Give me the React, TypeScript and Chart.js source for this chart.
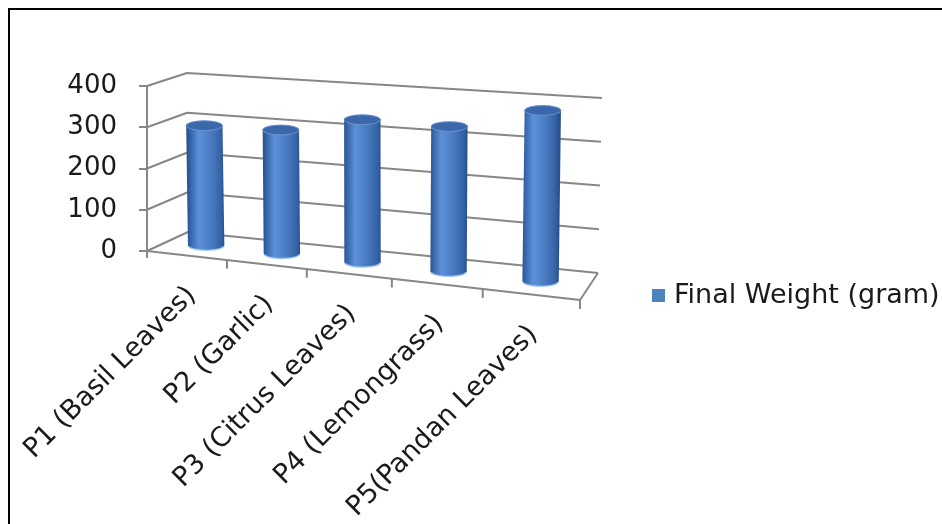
import React, { useEffect, useRef } from "react";
import { Chart, registerables } from "chart.js";

Chart.register(...registerables);

// ---- data ----
const categories = [
  "P1 (Basil Leaves)",
  "P2 (Garlic)",
  "P3 (Citrus Leaves)",
  "P4 (Lemongrass)",
  "P5(Pandan Leaves)",
];
const finalWeight = [293, 297, 336, 335, 387];
const seriesLabel = "Final Weight (gram)";
const yMin = 0;
const yMax = 400;
const yStep = 100;

// ---- style / layout ----
const FONT = '"DejaVu Sans", Verdana, sans-serif';
const TEXT = "#1a1a1a";
const GRID = "#878787";
const SERIES_COLOR = "#4f81bd";
const PERSPECTIVE = 0.85;
// 3D box corners, offsets from chart area (left, bottom)
const FLB = [5, 0];
const FRB = [433, 49];
const BLB = [41, -19];
const BRB = [451, 22];
const FLT = [0, -165];
const FRT = [435, -133];
const BLT = [40, -178];
const BRT = [455, -153];

const lerp = (a: number[], b: number[], t: number) => [
  a[0] + (b[0] - a[0]) * t,
  a[1] + (b[1] - a[1]) * t,
];

function project(ca: any, u: number, vf: number, w: number) {
  const g = (PERSPECTIVE * u) / (1 + (PERSPECTIVE - 1) * u);
  const fb = lerp(FLB, FRB, g);
  const bb = lerp(BLB, BRB, g);
  const ft = lerp(FLT, FRT, g);
  const bt = lerp(BLT, BRT, g);
  const bot = lerp(fb, bb, w);
  const top = lerp(ft, bt, w);
  const p = lerp(bot, top, vf);
  return { x: ca.left + p[0], y: ca.bottom + p[1] };
}

const box3dPlugin = {
  id: "box3d",
  beforeDatasetsDraw(chart: any) {
    const ctx: CanvasRenderingContext2D = chart.ctx;
    const ca = chart.chartArea;
    const xs = chart.scales.x;
    const ys = chart.scales.y;
    const W = ca.right - ca.left;
    const H = ca.bottom - ca.top;
    const vfOf = (px: number) => (ca.bottom - px) / H;
    const uOf = (px: number) => (px - ca.left) / W;
    const n = chart.data.labels.length;
    const halfCat = W / n / 2;

    ctx.save();
    // walls gridlines
    ctx.strokeStyle = GRID;
    ctx.lineWidth = 2;
    ctx.lineJoin = "round";
    ys.ticks.forEach((t: any) => {
      const vf = vfOf(ys.getPixelForValue(t.value));
      const a = project(ca, 0, vf, 0);
      const b = project(ca, 0, vf, 1);
      const c = project(ca, 1, vf, 1);
      ctx.beginPath();
      ctx.moveTo(ca.left, a.y);
      ctx.lineTo(b.x, b.y);
      ctx.lineTo(c.x, c.y);
      ctx.stroke();
    });
    // floor front and right edges
    {
      const a = project(ca, 0, 0, 0);
      const b = project(ca, 1, 0, 0);
      const c = project(ca, 1, 0, 1);
      ctx.beginPath();
      ctx.moveTo(ca.left, a.y);
      ctx.lineTo(b.x, b.y);
      ctx.lineTo(c.x, c.y);
      ctx.stroke();
      ctx.beginPath();
      ctx.moveTo(ca.left, ca.bottom);
      ctx.lineTo(ca.left, ca.bottom + 7);
      ctx.stroke();
    }
    // category tick marks on front edge
    for (let i = 0; i < n; i++) {
      const u = uOf(xs.getPixelForValue(i) + halfCat);
      const p = project(ca, u, 0, 0);
      ctx.beginPath();
      ctx.moveTo(p.x, p.y);
      ctx.lineTo(p.x, p.y + 9);
      ctx.stroke();
    }

    // cylinders
    const meta = chart.getDatasetMeta(0);
    meta.data.forEach((bar: any) => {
      const props = bar.getProps(["x", "y", "width"], true);
      const u = uOf(props.x);
      const vf = vfOf(props.y);
      const rx = props.width / 2;
      const ry = rx * 0.27;
      const c0 = project(ca, u, 0, 0.5);
      const c1 = project(ca, u, vf, 0.5);
      const grad = ctx.createLinearGradient(c0.x - rx, 0, c0.x + rx, 0);
      grad.addColorStop(0, "#2b5593");
      grad.addColorStop(0.12, "#3e6eb3");
      grad.addColorStop(0.3, "#5b90d8");
      grad.addColorStop(0.45, "#5487cf");
      grad.addColorStop(0.7, "#4575ba");
      grad.addColorStop(0.9, "#3463a6");
      grad.addColorStop(1, "#2a5291");
      ctx.beginPath();
      ctx.moveTo(c1.x - rx, c1.y);
      ctx.lineTo(c0.x - rx, c0.y);
      ctx.ellipse(c0.x, c0.y, rx, ry, 0, Math.PI, 0, true);
      ctx.lineTo(c1.x + rx, c1.y);
      ctx.ellipse(c1.x, c1.y, rx, ry, 0, 0, Math.PI, true);
      ctx.closePath();
      ctx.fillStyle = grad;
      ctx.fill();
      ctx.beginPath();
      ctx.ellipse(c0.x, c0.y, rx - 0.5, ry, 0, Math.PI * 0.95, Math.PI * 0.05, true);
      ctx.strokeStyle = "rgba(150,192,240,0.85)";
      ctx.lineWidth = 1.5;
      ctx.stroke();
      ctx.beginPath();
      ctx.ellipse(c1.x, c1.y, rx, ry, 0, 0, Math.PI * 2);
      ctx.fillStyle = "#3a68ab";
      ctx.fill();
      ctx.strokeStyle = "rgba(110,150,210,0.9)";
      ctx.lineWidth = 1;
      ctx.stroke();
    });

    // category labels, rotated 45 degrees
    ctx.fillStyle = TEXT;
    ctx.font = `27px ${FONT}`;
    ctx.textAlign = "right";
    ctx.textBaseline = "middle";
    chart.data.labels.forEach((lab: string, i: number) => {
      const p = project(ca, uOf(xs.getPixelForValue(i)), 0, 0);
      ctx.save();
      ctx.translate(p.x + 3, p.y + 36);
      ctx.rotate(-Math.PI / 4);
      ctx.fillText(lab, 0, 0);
      ctx.restore();
    });

    // legend
    const ds = chart.data.datasets[0];
    ctx.fillStyle = ds.backgroundColor;
    ctx.fillRect(642, 279, 13, 13);
    ctx.fillStyle = TEXT;
    ctx.textAlign = "left";
    ctx.textBaseline = "middle";
    ctx.fillText(ds.label, 664, 286);

    ctx.restore();
    return false;
  },
};

export default function App() {
  const ref = useRef<HTMLCanvasElement | null>(null);
  useEffect(() => {
    document.documentElement.style.overflow = "hidden";
    document.body.style.overflow = "hidden";
    if (!ref.current) return;
    Chart.defaults.font.family = FONT;
    const chart = new Chart(ref.current, {
      type: "bar",
      data: {
        labels: categories,
        datasets: [
          {
            label: seriesLabel,
            data: finalWeight,
            backgroundColor: SERIES_COLOR,
            barPercentage: 0.42,
            categoryPercentage: 1,
          },
        ],
      },
      options: {
        responsive: false,
        animation: false,
        events: [],
        layout: { padding: { left: 20, top: 76, right: 362, bottom: 273 } },
        plugins: {
          legend: { display: false },
          tooltip: { enabled: false },
        },
        scales: {
          x: { display: false, offset: true },
          y: {
            min: yMin,
            max: yMax,
            ticks: {
              stepSize: yStep,
              color: TEXT,
              padding: 22,
              font: { family: FONT, size: 26 },
            },
            grid: {
              drawOnChartArea: false,
              drawTicks: true,
              tickLength: 8,
              color: GRID,
              lineWidth: 2,
            },
            border: { display: true, color: GRID, width: 2 },
            afterFit: (s: any) => {
              s.width = 117;
            },
          },
        },
      },
      plugins: [box3dPlugin],
    });
    return () => chart.destroy();
  }, []);

  return (
    <div
      style={{
        position: "fixed",
        left: 8,
        top: 8,
        width: 932,
        height: 514,
        borderLeft: "2px solid #000",
        borderTop: "2px solid #000",
        background: "#fff",
      }}
    >
      <canvas ref={ref} width={932} height={514} style={{ display: "block" }} />
    </div>
  );
}
